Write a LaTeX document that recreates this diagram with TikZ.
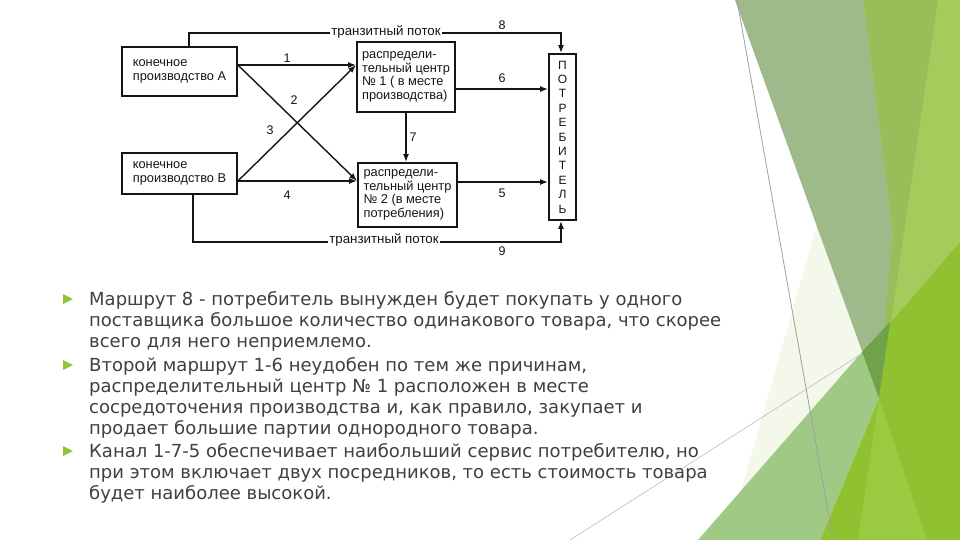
\documentclass[tikz,border=0pt]{standalone}
\usepackage{fontspec}
\setmainfont{DejaVu Sans}
\newfontfamily\schemefont{Liberation Sans}
\usetikzlibrary{arrows.meta,positioning,calc}
\definecolor{ink}{HTML}{151515}
\definecolor{bodyC}{HTML}{404040}
\definecolor{bulC}{HTML}{8CC63F}
\definecolor{creamC}{HTML}{F4F8EA}
\definecolor{sageC}{HTML}{9EBA8B}
\definecolor{leafC}{HTML}{90C130}
\definecolor{mossC}{HTML}{98BE5A}
\definecolor{limeC}{HTML}{A4CB5B}
\definecolor{paleC}{HTML}{A0C986}
\definecolor{brightC}{HTML}{9ACA3F}
\definecolor{deepC}{HTML}{6FA24B}
\definecolor{hairC}{HTML}{A0A0A0}
\tikzset{
  >={Latex[length=8pt,width=6pt]},
  blk/.style={draw=ink,line width=1.8pt,fill=white,text=ink,align=left,inner sep=0pt,
    font=\schemefont\fontsize{12.8}{13.5}\selectfont},
  flow/.style={->,draw=ink,line width=1.4pt},
  num/.style={font=\schemefont\fontsize{12.5}{13}\selectfont,text=ink,inner sep=1pt},
  tlab/.style={font=\schemefont\fontsize{13.3}{14}\selectfont,text=ink,fill=white,inner sep=1.5pt},
  para/.style={font=\fontsize{18}{21}\selectfont,text=bodyC,align=left,anchor=base west,inner sep=0pt},
}
\newcommand{\bulmark}[2]{%
  \fill[bulC] (#1-5,#2-5) -- (#1+5,#2) -- (#1-5,#2+5) -- cycle;
}

\begin{document}
\begin{tikzpicture}[x=1pt,y=-1pt]
\useasboundingbox (0,0) rectangle (960,540);
\fill[white] (0,0) rectangle (960,540);

% ================= BACKGROUND FACETS =================
\fill[creamC] (881,0) -- (727,540) -- (960,540) -- (960,0) -- cycle;
\draw[hairC!70,line width=0.6pt] (570,540) -- (960,291);
\fill[sageC] (735,0) -- (863,0) -- (893,230) -- (879,398) -- cycle;
\fill[leafC] (863,0) -- (960,0) -- (960,540) -- (820,540) -- (879,398) -- (893,230) -- cycle;
\fill[mossC] (863,0) -- (938,0) -- (892,322) -- (885,322) -- (893,230) -- cycle;
\fill[limeC] (938,0) -- (960,0) -- (960,242) -- (891,322) -- cycle;
\fill[brightC] (879,398) -- (927,540) -- (858,540) -- cycle;
\fill[paleC] (698,540) -- (862,352) -- (879,398) -- (820,540) -- cycle;
\fill[deepC] (862,352) -- (890,322) -- (879,398) -- cycle;
\draw[hairC,line width=0.8pt] (737,0) -- (833,540);

% ================= SCHEME =================
\node[blk,minimum width=115pt,minimum height=49pt] (A) at (179.5,71.5) {конечное\\производство А};
\node[blk,minimum width=115pt,minimum height=41pt] (B) at (179.5,173.5) {конечное\\производство В};
\node[blk,minimum width=98pt,minimum height=70pt] (DC1) at (406,77) {распредели-\\тельный центр\\№ 1 ( в месте\\производства)};
\node[blk,minimum width=99pt,minimum height=64pt] (DC2) at (407.5,195) {распредели-\\тельный центр\\№ 2 (в месте\\потребления)};
\node[blk,minimum width=27pt,minimum height=166pt,align=center,
  font=\schemefont\fontsize{12}{14.4}\selectfont] (P) at (562.5,137) {П\\О\\Т\\Р\\Е\\Б\\И\\Т\\Е\\Л\\Ь};

\coordinate (a1) at ([yshift=6.5pt]A.east);
\coordinate (b1) at ([yshift=-7.5pt]B.east);
\coordinate (c6) at ([yshift=-12pt]DC1.east);
\coordinate (c5) at ([yshift=13pt]DC2.east);
\coordinate (t8) at ([xshift=9.5pt]A.north);
\coordinate (p8) at ([xshift=-1.5pt]P.north);
\coordinate (t9) at ([xshift=13.5pt]B.south);
\coordinate (p9) at ([xshift=-1.5pt]P.south);

\draw[flow] (a1) -- (a1 -| DC1.west);
\draw[flow] (a1) -- (b1 -| DC2.west);
\draw[flow] (b1) -- (a1 -| DC1.west);
\draw[flow] (b1) -- (b1 -| DC2.west);
\draw[flow] (c6) -- (c6 -| P.west);
\draw[flow] (c5) -- (c5 -| P.west);
\draw[flow] (DC1.south) -- (DC1.south |- DC2.north);
\draw[flow] (t8) -- ++(0,-13) -| (p8);
\draw[flow] (t9) -- ++(0,47) -| (p9);

\node[tlab] (tr8) at (386,32) {транзитный поток};
\node[tlab] (tr9) at (384,240) {транзитный поток};
\node[num] (n1) at (287,58) {1};
\node[num] (n2) at (294,100) {2};
\node[num] (n3) at (270,130) {3};
\node[num] (n4) at (287,195) {4};
\node[num] (n5) at (502,193) {5};
\node[num] (n6) at (502,78) {6};
\node[num] (n7) at (413,137) {7};
\node[num] (n8) at (502,25) {8};
\node[num] (n9) at (502,251) {9};

% ================= BULLETS =================
\bulmark{68}{299}
\node[para] (p1) at (89,347) {Маршрут 8 - потребитель вынужден будет покупать у одного\\поставщика большое количество одинакового товара, что скорее\\всего для него неприемлемо.};
\bulmark{68}{365}
\node[para] (p2) at (89,434) {Второй маршрут 1-6 неудобен по тем же причинам,\\распределительный центр № 1 расположен в месте\\сосредоточения производства и, как правило, закупает и\\продает большие партии однородного товара.};
\bulmark{68}{451}
\node[para] (p3) at (89,499) {Канал 1-7-5 обеспечивает наибольший сервис потребителю, но\\при этом включает двух посредников, то есть стоимость товара\\будет наиболее высокой.};

\end{tikzpicture}
\end{document}
